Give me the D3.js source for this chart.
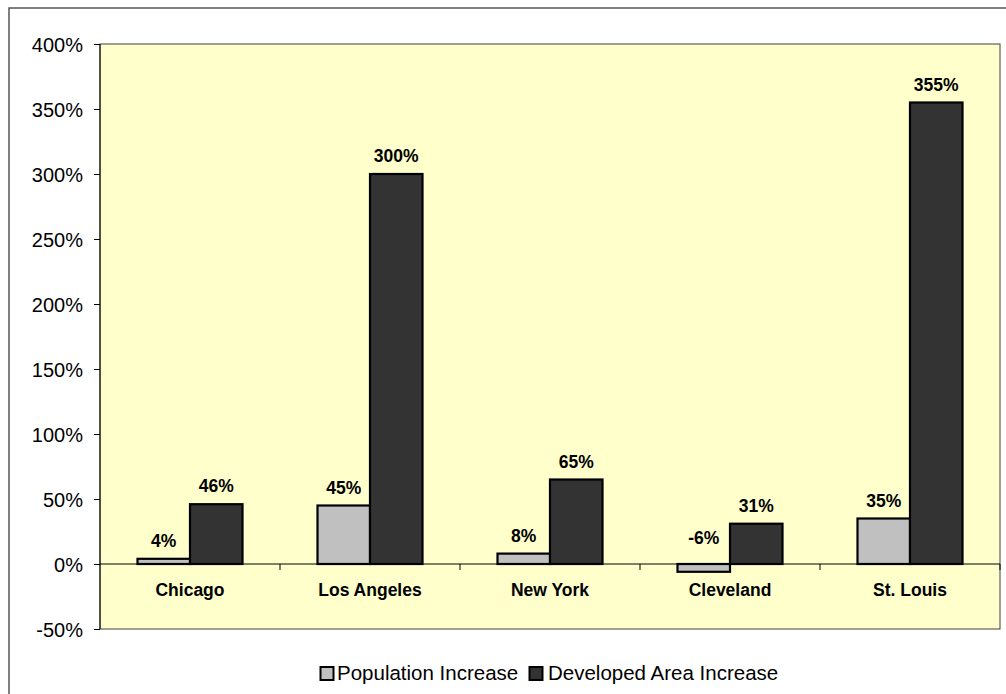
<!DOCTYPE html>
<html><head><meta charset="utf-8">
<script src="https://cdn.jsdelivr.net/npm/d3@7/dist/d3.min.js"></script>
<style>body{margin:0;background:#fff;}svg{display:block;font-family:"Liberation Sans",Arial,sans-serif;}</style>
</head><body><svg id="c" width="1006" height="694"></svg>
<script>
const categories = ["Chicago","Los Angeles","New York","Cleveland","St. Louis"];
const seriesNames = ["Population Increase","Developed Area Increase"];
const populationIncrease = [4, 45, 8, -6, 35];
const developedAreaIncrease = [46, 300, 65, 31, 355];
const yTicks = [-50, 0, 50, 100, 150, 200, 250, 300, 350, 400];
const colors = ["#c0c0c0", "#333333"];

const svg = d3.select("#c");
const plot = {left:100, top:44, right:1000, bottom:629};

// outer chart border
svg.append("rect").attr("x",9).attr("y",8).attr("width",1020).attr("height",720)
  .attr("fill","#fff").attr("stroke","#555").attr("stroke-width",1.5);

const x0 = d3.scaleBand().domain(categories).range([plot.left, plot.right]).paddingInner(0).paddingOuter(0);
const x1 = d3.scaleBand().domain(seriesNames).range([0, x0.bandwidth()]).paddingInner(0).paddingOuter(0.7143);
const y = d3.scaleLinear().domain([-50, 400]).range([plot.bottom, plot.top]);

svg.append("rect").attr("x",plot.left).attr("y",plot.top)
  .attr("width",plot.right-plot.left).attr("height",plot.bottom-plot.top)
  .attr("fill","#ffffcc").attr("stroke","#404040").attr("stroke-width",1);

const data = categories.map((c,i)=>({cat:c, vals:[populationIncrease[i], developedAreaIncrease[i]]}));

const g = svg.append("g");
data.forEach(d=>{
  d.vals.forEach((v,j)=>{
    const xs = x0(d.cat) + x1(seriesNames[j]);
    g.append("rect").attr("x",xs).attr("width",x1.bandwidth())
      .attr("y", y(Math.max(v,0))).attr("height", Math.abs(y(v)-y(0)))
      .attr("fill",colors[j]).attr("stroke","#000").attr("stroke-width",2.2);
  });
});
// labels
data.forEach(d=>{
  d.vals.forEach((v,j)=>{
    const xs = x0(d.cat) + x1(seriesNames[j]) + x1.bandwidth()/2;
    g.append("text").attr("x",xs).attr("y", y(Math.abs(v)) - 12)
      .attr("text-anchor","middle").attr("font-weight","bold").attr("font-size",17.5)
      .attr("fill","#000").text(v + "%");
  });
});

// y axis
const yAxis = d3.axisLeft(y).tickValues(yTicks).tickSize(6).tickFormat(d=>d+"%");
const ya = svg.append("g").attr("transform",`translate(${plot.left},0)`).call(yAxis);
ya.select(".domain").attr("stroke","#000").attr("d",`M0,${plot.top}V${plot.bottom}`);
ya.selectAll(".tick line").attr("stroke","#000");
ya.selectAll(".tick text").attr("font-size",20).attr("font-family","Liberation Sans, Arial, sans-serif")
  .attr("fill","#000").attr("x",-17).attr("dy","0.35em");

// zero line and category boundary ticks
svg.append("line").attr("x1",plot.left).attr("x2",plot.right).attr("y1",y(0)).attr("y2",y(0))
  .attr("stroke","#000").attr("stroke-width",1);
categories.forEach((c,i)=>{
  if(i===0) return;
  svg.append("line").attr("x1",x0(c)).attr("x2",x0(c)).attr("y1",y(0)).attr("y2",y(0)+6)
    .attr("stroke","#000");
});
svg.append("line").attr("x1",plot.right).attr("x2",plot.right).attr("y1",y(0)).attr("y2",y(0)+6).attr("stroke","#000");
categories.forEach(c=>{
  svg.append("text").attr("x",x0(c)+x0.bandwidth()/2).attr("y",596)
    .attr("text-anchor","middle").attr("font-weight","bold").attr("font-size",17.5).text(c);
});

// legend
const legX = [320.5, 529.5];
const legTextX = [337, 548];
seriesNames.forEach((s,j)=>{
  svg.append("rect").attr("x",legX[j]).attr("y",667).attr("width",13).attr("height",13)
    .attr("fill",colors[j]).attr("stroke","#000").attr("stroke-width",2);
  svg.append("text").attr("x",legTextX[j]).attr("y",680).attr("font-size",20.5).text(s);
});
</script></body></html>
